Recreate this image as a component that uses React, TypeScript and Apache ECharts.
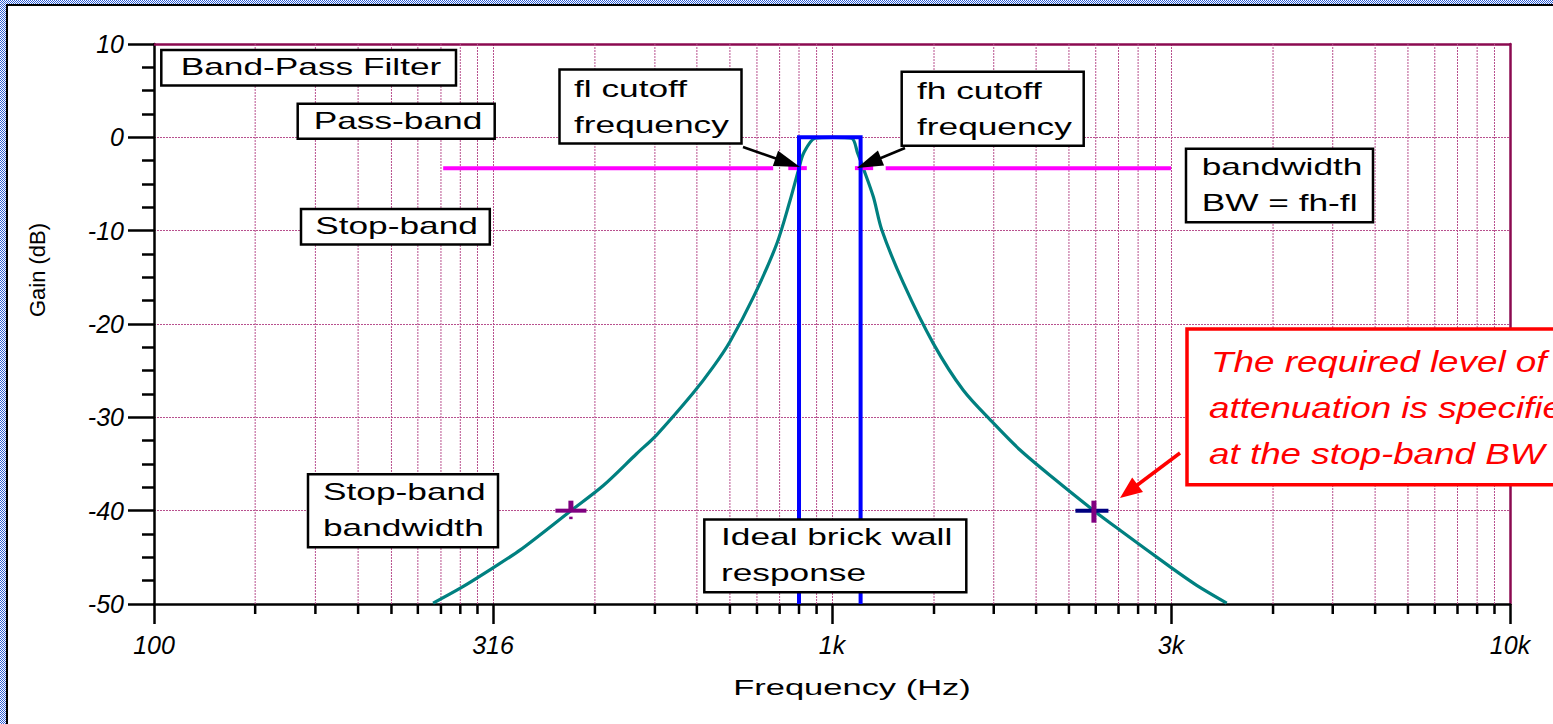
import React, { useEffect, useRef } from "react";
import * as echarts from "echarts";

// ---- Axes -------------------------------------------------------------
const freqMin = 100;
const freqMax = 10000;
// labels at each half decade (100, 316, 1k, 3.16k, 10k)
const freqTickLabels = ["100", "316", "1k", "3k", "10k"];
// minor ticks / grid lines inside every half decade
const minorTickHz = [
  141, 173, 200, 224, 245, 265, 283, 300,
  447, 548, 632, 707, 775, 837, 894, 949,
  1414, 1732, 2000, 2236, 2449, 2646, 2828, 3000,
  4472, 5477, 6325, 7071, 7746, 8367, 8944, 9487,
];
const gainMin = -50;
const gainMax = 10;
const gainStep = 10;

// ---- Band-pass filter response ---------------------------------------
const responseHz = [
  258, 283, 315, 347, 412, 460, 515, 551, 624, 668, 707, 766, 829, 867,
  894, 908, 944, 1003, 1069, 1091, 1112, 1151, 1184, 1274, 1411, 1562,
  1729, 1894, 2120, 2434, 2660, 3150, 3451, 3821,
];
const responseDb = [
  -49.9, -48.3, -46.2, -44.2, -40.0, -37.3, -33.9, -31.9, -27.4, -24.6,
  -21.9, -17.1, -11.4, -6.8, -3.3, -1.7, -0.1, 0.0, -0.1, -1.7, -3.3,
  -6.4, -9.9, -15.6, -22.1, -27.1, -30.6, -33.5, -36.5, -40.0, -42.1,
  -46.0, -48.0, -49.9,
];

// ---- Ideal brick wall ---------------------------------------------------
const brickWallHz = [894, 894, 1102, 1102];
const brickWallDb = [-50, 0, 0, -50];

// ---- Cutoff level line (drawn in pieces) --------------------------------
const cutoffDb = -3.3;
const cutoffSegmentsHz = [
  [267, 819],
  [862, 918],
  [1081, 1150],
  [1200, 3162],
];

// ---- Stop-band markers ---------------------------------------------------
const stopBandHz = [412, 2434];
const stopBandDb = [-40, -40];

const FONT = "'Liberation Sans', Arial, Helvetica, sans-serif";
const GRID_COLOR = "#b8508e";
const FRAME_COLOR = "#8b0a50";

type Box = { x: number; y: number; w: number; h: number };

function boxRect(b: Box, stroke = "#000", lineWidth = 2.5) {
  return {
    type: "rect",
    z: 100,
    shape: { x: b.x, y: b.y, width: b.w, height: b.h },
    style: { fill: "#ffffff", stroke, lineWidth },
  };
}

function boxText(
  text: string,
  x: number,
  y: number,
  align: "left" | "center",
  opts: { size?: number; italic?: boolean; color?: string; scaleX?: number } = {}
) {
  return {
    type: "text",
    z: 101,
    x,
    y,
    scaleX: opts.scaleX ?? 1.47,
    style: {
      text,
      fill: opts.color ?? "#000",
      fontSize: opts.size ?? 24,
      fontFamily: FONT,
      fontStyle: opts.italic ? "italic" : "normal",
      align,
      textAlign: align,
      verticalAlign: "middle",
      textVerticalAlign: "middle",
    },
  };
}

function arrow(
  x1: number,
  y1: number,
  x2: number,
  y2: number,
  color: string,
  width: number,
  headLen: number,
  headHalf: number
) {
  const dx = x2 - x1;
  const dy = y2 - y1;
  const len = Math.hypot(dx, dy);
  const ux = dx / len;
  const uy = dy / len;
  const bx = x2 - ux * headLen;
  const by = y2 - uy * headLen;
  return [
    {
      type: "line",
      z: 102,
      shape: { x1, y1, x2: bx + ux * 2, y2: by + uy * 2 },
      style: { stroke: color, lineWidth: width },
    },
    {
      type: "polygon",
      z: 102,
      shape: {
        points: [
          [x2, y2],
          [bx - uy * headHalf, by + ux * headHalf],
          [bx + uy * headHalf, by - ux * headHalf],
        ],
      },
      style: { fill: color },
    },
  ];
}

function windowFrame() {
  const els: any[] = [];
  const blue = "#2f5fd6";
  for (let c = 0; c < 6; c++) {
    els.push({
      type: "line",
      z: 200,
      shape: { x1: c + 0.5, y1: 0, x2: c + 0.5, y2: 724 },
      style: { stroke: blue, lineWidth: 1, lineDash: [1, 1], lineDashOffset: c % 2 },
    });
  }
  for (let r = 0; r < 4; r++) {
    els.push({
      type: "line",
      z: 200,
      shape: { x1: 0, y1: r + 0.5, x2: 1553, y2: r + 0.5 },
      style: { stroke: blue, lineWidth: 1, lineDash: [1, 1], lineDashOffset: r % 2 },
    });
  }
  els.push({
    type: "line",
    z: 200,
    shape: { x1: 7, y1: 4, x2: 7, y2: 724 },
    style: { stroke: "#000", lineWidth: 2 },
  });
  els.push({
    type: "line",
    z: 200,
    shape: { x1: 6, y1: 5, x2: 1553, y2: 5 },
    style: { stroke: "#000", lineWidth: 2 },
  });
  return els;
}

function annotations() {
  const els: any[] = [];
  // frequency axis title
  els.push({
    type: "text",
    z: 101,
    x: 852,
    y: 687,
    scaleX: 1.5,
    style: {
      text: "Frequency (Hz)",
      fill: "#000",
      fontSize: 23,
      fontFamily: FONT,
      align: "center",
      textAlign: "center",
      verticalAlign: "middle",
      textVerticalAlign: "middle",
    },
  });

  // single-line labels
  els.push(boxRect({ x: 161.3, y: 50, w: 294.7, h: 35.5 }));
  els.push(boxText("Band-Pass Filter", 311, 66.5, "center"));
  els.push(boxRect({ x: 297.7, y: 103.7, w: 197, h: 35 }));
  els.push(boxText("Pass-band", 398, 120.5, "center"));
  els.push(boxRect({ x: 301, y: 209, w: 188.8, h: 35.5 }));
  els.push(boxText("Stop-band", 396.5, 225.5, "center"));

  // cutoff labels
  els.push(boxRect({ x: 559.5, y: 69.5, w: 182, h: 74 }));
  els.push(boxText("fl cutoff", 574, 89, "left"));
  els.push(boxText("frequency", 574, 124.5, "left"));
  els.push(boxRect({ x: 901.7, y: 71.7, w: 182, h: 74 }));
  els.push(boxText("fh cutoff", 917, 91, "left"));
  els.push(boxText("frequency", 917, 126.5, "left"));

  els.push(boxRect({ x: 1186, y: 148.7, w: 187, h: 73.5 }));
  els.push(boxText("bandwidth", 1201.7, 166.7, "left"));
  els.push(boxText("BW = fh-fl", 1201.7, 203, "left"));

  els.push(boxRect({ x: 308, y: 474.2, w: 190, h: 73 }));
  els.push(boxText("Stop-band", 323, 491.7, "left"));
  els.push(boxText("bandwidth", 323, 528, "left"));

  els.push(boxRect({ x: 704.3, y: 519.5, w: 262, h: 72.7 }));
  els.push(boxText("Ideal brick wall", 721, 536.5, "left"));
  els.push(boxText("response", 721, 573, "left"));

  // attenuation note (runs past the right edge of the picture)
  els.push(boxRect({ x: 1187, y: 329, w: 420, h: 155.7 }, "#ff0000", 3.5));
  const red = { size: 29, italic: true, color: "#ff0000", scaleX: 1.27 };
  els.push(boxText("The required level of", 1211, 362, "left", red));
  els.push(boxText("attenuation is specified", 1209, 408, "left", red));
  els.push(boxText("at the stop-band BW", 1209, 454, "left", red));

  els.push(...arrow(743, 147, 800, 167, "#000", 2.5, 26, 8));
  els.push(...arrow(905, 148, 857, 168, "#000", 2.5, 26, 8));
  els.push(...arrow(1180, 453, 1120, 498, "#ff0000", 3.5, 22, 9));
  return els;
}

export default function App() {
  const ref = useRef<HTMLDivElement>(null);

  useEffect(() => {
    if (!ref.current) return;
    const chart = echarts.init(ref.current, null, { renderer: "svg" });

    const response = responseHz.map((f, i) => [f, responseDb[i]]);
    const brickWall = brickWallHz.map((f, i) => [f, brickWallDb[i]]);
    const markers = stopBandHz.map((f, i) => [f, stopBandDb[i]]);

    const cutoffSeries = cutoffSegmentsHz.map((seg) => ({
      type: "line",
      name: "cutoff level",
      xAxisIndex: 0,
      yAxisIndex: 0,
      data: [
        [seg[0], cutoffDb],
        [seg[1], cutoffDb],
      ],
      symbol: "none",
      silent: true,
      z: 3,
      lineStyle: { color: "#ff00ff", width: 4 },
    }));

    const option: any = {
      animation: false,
      backgroundColor: "#ffffff",
      grid: { left: 154, top: 44, width: 1356, height: 560, containLabel: false },
      xAxis: [
        {
          type: "log",
          logBase: Math.sqrt(10),
          min: freqMin,
          max: freqMax,
          position: "bottom",
          axisLine: { onZero: false, lineStyle: { color: "#000", width: 2.5 } },
          axisTick: { show: true, length: 20, lineStyle: { color: "#000", width: 2.5 } },
          minorTick: { show: false },
          axisLabel: {
            formatter: (v: number) =>
              freqTickLabels[Math.round(2 * Math.log10(v / freqMin))] ?? "",
            fontSize: 25,
            fontStyle: "italic",
            fontFamily: FONT,
            color: "#000",
            margin: 28,
            showMinLabel: true,
            showMaxLabel: true,
          },
          splitLine: {
            show: true,
            lineStyle: { color: GRID_COLOR, width: 1, type: [2, 1] },
          },
        },
        {
          type: "log",
          logBase: Math.sqrt(10),
          min: freqMin,
          max: freqMax,
          position: "top",
          axisLine: { onZero: false, lineStyle: { color: FRAME_COLOR, width: 2.5 } },
          axisTick: { show: false },
          axisLabel: { show: false },
          splitLine: { show: false },
        },
      ],
      yAxis: [
        {
          type: "value",
          min: gainMin,
          max: gainMax,
          interval: gainStep,
          position: "left",
          name: "Gain (dB)",
          nameLocation: "middle",
          nameGap: 106,
          nameTextStyle: {
            fontSize: 22,
            fontFamily: FONT,
            color: "#000",
            padding: [0, 0, 0, 108],
          },
          axisLine: { show: true, onZero: false, lineStyle: { color: "#000", width: 2.5 } },
          axisTick: { show: true, length: 26, lineStyle: { color: "#000", width: 2.5 } },
          minorTick: {
            show: true,
            splitNumber: 4,
            length: 12,
            lineStyle: { color: "#000", width: 2.5 },
          },
          axisLabel: {
            fontSize: 25,
            fontStyle: "italic",
            fontFamily: FONT,
            color: "#000",
            margin: 30,
            showMinLabel: true,
            showMaxLabel: true,
          },
          splitLine: {
            show: true,
            lineStyle: { color: GRID_COLOR, width: 1, type: [2, 1] },
          },
        },
        {
          type: "value",
          min: gainMin,
          max: gainMax,
          interval: gainStep,
          position: "right",
          axisLine: { show: true, onZero: false, lineStyle: { color: FRAME_COLOR, width: 2.5 } },
          axisTick: { show: false },
          axisLabel: { show: false },
          splitLine: { show: false },
        },
      ],
      series: [
        {
          // minor vertical grid lines and minor ticks under the frequency axis
          type: "custom",
          name: "minor grid",
          xAxisIndex: 0,
          yAxisIndex: 0,
          data: minorTickHz.map((f) => [f, gainMin]),
          encode: { x: 0, y: 1 },
          clip: false,
          silent: true,
          z: 1,
          renderItem: (_params: any, api: any) => {
            const f = api.value(0);
            const top = api.coord([f, gainMax]);
            const bottom = api.coord([f, gainMin]);
            return {
              type: "group",
              children: [
                {
                  type: "line",
                  shape: { x1: top[0], y1: top[1], x2: bottom[0], y2: bottom[1] },
                  style: { stroke: GRID_COLOR, lineWidth: 1, lineDash: [2, 1] },
                },
                {
                  type: "line",
                  shape: { x1: bottom[0], y1: bottom[1], x2: bottom[0], y2: bottom[1] + 10 },
                  style: { stroke: "#000", lineWidth: 2.5 },
                },
              ],
            };
          },
        },
        {
          type: "line",
          name: "Band-pass response",
          xAxisIndex: 0,
          yAxisIndex: 0,
          data: response,
          symbol: "none",
          smooth: 0.3,
          z: 2,
          lineStyle: { color: "#008080", width: 3.2 },
        },
        ...cutoffSeries,
        {
          type: "line",
          name: "Ideal brick wall",
          xAxisIndex: 0,
          yAxisIndex: 0,
          data: brickWall,
          symbol: "none",
          z: 4,
          lineStyle: { color: "#0000ff", width: 4, join: "miter", cap: "butt" },
        },
        {
          type: "custom",
          name: "Stop-band markers",
          xAxisIndex: 0,
          yAxisIndex: 0,
          data: markers,
          encode: { x: 0, y: 1 },
          clip: false,
          z: 5,
          renderItem: (params: any, api: any) => {
            const p = api.coord([api.value(0), api.value(1)]);
            const cx = p[0];
            const cy = p[1];
            if (params.dataIndex === 0) {
              return {
                type: "group",
                children: [
                  { type: "rect", shape: { x: cx - 15.5, y: cy - 2, width: 31, height: 4 }, style: { fill: "#800080" } },
                  { type: "rect", shape: { x: cx - 2.5, y: cy - 10, width: 5, height: 10 }, style: { fill: "#800080" } },
                  { type: "rect", shape: { x: cx - 1.7, y: cy + 6, width: 3.4, height: 2.5 }, style: { fill: "#800080" } },
                ],
              };
            }
            return {
              type: "group",
              children: [
                { type: "rect", shape: { x: cx - 18.5, y: cy - 2, width: 33, height: 4 }, style: { fill: "#000080" } },
                { type: "rect", shape: { x: cx - 2.5, y: cy - 10, width: 5, height: 22 }, style: { fill: "#800080" } },
              ],
            };
          },
        },
      ],
      graphic: { elements: [...annotations(), ...windowFrame()] },
    };

    chart.setOption(option);
    return () => chart.dispose();
  }, []);

  return (
    <div
      ref={ref}
      style={{
        position: "fixed",
        left: 0,
        top: 0,
        width: 1553,
        height: 724,
        background: "#ffffff",
      }}
    />
  );
}
